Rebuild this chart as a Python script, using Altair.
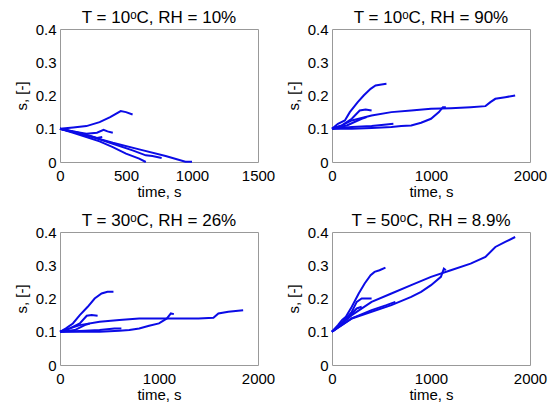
import altair as alt
import pandas as pd

FONT = "Liberation Sans"
LINE_COLOR = "#0b0be6"

titles = ["T = 10ᵒC, RH = 10%", "T = 10ᵒC, RH = 90%",
          "T = 30ᵒC, RH = 26%", "T = 50ᵒC, RH = 8.9%"]
x_max = [1500, 2000, 2000, 2000]
x_ticks = [[0, 500, 1000, 1500], [0, 1000, 2000], [0, 1000, 2000], [0, 1000, 2000]]
y_ticks = [0, 0.1, 0.2, 0.3, 0.4]

# Panel 1: T = 10C, RH = 10%
p1_t = [
    [0, 100, 200, 300, 380, 460, 500, 550],
    [0, 100, 200, 280, 330, 360, 400],
    [0, 200, 400, 600, 800, 950, 1000],
    [0, 100, 200, 300, 400, 500, 600, 650],
    [0, 100, 250, 400, 550, 650, 700, 770],
    [0, 120, 230, 280, 320],
]
p1_s = [
    [0.1, 0.104, 0.108, 0.12, 0.135, 0.153, 0.15, 0.143],
    [0.1, 0.092, 0.085, 0.088, 0.097, 0.092, 0.088],
    [0.1, 0.08, 0.058, 0.038, 0.018, 0.001, 0.001],
    [0.1, 0.088, 0.075, 0.062, 0.045, 0.025, 0.01, 0.0],
    [0.1, 0.09, 0.075, 0.055, 0.035, 0.02, 0.018, 0.012],
    [0.1, 0.09, 0.078, 0.072, 0.075],
]

# Panel 2: T = 10C, RH = 90%
p2_t = [
    [0, 60, 130, 180, 260, 320, 390, 440, 500, 550],
    [0, 100, 200, 280, 340, 400],
    [0, 100, 200, 400, 600, 800, 1000, 1200, 1400, 1550, 1600, 1650, 1750, 1850],
    [0, 200, 400, 600, 700, 800, 900, 1000, 1080, 1120, 1150],
    [0, 200, 400, 550, 620],
    [0, 150, 300, 350],
]
p2_s = [
    [0.1, 0.115, 0.125, 0.15, 0.18, 0.2, 0.22, 0.23, 0.233, 0.235],
    [0.1, 0.11, 0.13, 0.155, 0.158, 0.155],
    [0.1, 0.11, 0.125, 0.14, 0.15, 0.155, 0.16, 0.162, 0.165, 0.168, 0.18, 0.19, 0.195, 0.2],
    [0.1, 0.1, 0.102, 0.105, 0.108, 0.11, 0.118, 0.13, 0.15, 0.165, 0.165],
    [0.1, 0.105, 0.108, 0.113, 0.115],
    [0.1, 0.11, 0.13, 0.135],
]

# Panel 3: T = 30C, RH = 26%
p3_t = [
    [0, 60, 130, 200, 280, 350, 420, 480, 540],
    [0, 100, 200, 270, 320, 380],
    [0, 100, 200, 400, 600, 800, 1000, 1200, 1400, 1550, 1600, 1700, 1850],
    [0, 200, 400, 600, 700, 800, 900, 1000, 1080, 1120, 1150],
    [0, 200, 400, 550, 620],
    [0, 150, 250, 300],
]
p3_s = [
    [0.1, 0.11, 0.125, 0.15, 0.175, 0.2, 0.215, 0.22, 0.22],
    [0.1, 0.11, 0.125, 0.148, 0.15, 0.148],
    [0.1, 0.11, 0.12, 0.13, 0.135, 0.14, 0.14, 0.14, 0.14, 0.142, 0.155, 0.16, 0.165],
    [0.1, 0.1, 0.1, 0.103, 0.105, 0.11, 0.118, 0.125, 0.14, 0.155, 0.153],
    [0.1, 0.102, 0.105, 0.11, 0.11],
    [0.1, 0.105, 0.12, 0.125],
]

# Panel 4: T = 50C, RH = 8.9%
p4_t = [
    [0, 60, 100, 140, 200, 270, 330, 390, 430, 480, 540],
    [0, 100, 200, 250, 300, 400],
    [0, 200, 400, 600, 800, 1000, 1200, 1400, 1550, 1650, 1750, 1850],
    [0, 200, 400, 600, 800, 900, 1000, 1100, 1130, 1150],
    [0, 200, 400, 550, 640],
    [0, 150, 250, 300],
]
p4_s = [
    [0.1, 0.12, 0.135, 0.145, 0.175, 0.215, 0.245, 0.27, 0.28, 0.285, 0.293],
    [0.1, 0.125, 0.16, 0.19, 0.2, 0.2],
    [0.1, 0.15, 0.19, 0.215, 0.24, 0.265, 0.285, 0.305, 0.325, 0.355, 0.37, 0.385],
    [0.1, 0.14, 0.16, 0.18, 0.205, 0.22, 0.24, 0.265, 0.29, 0.285],
    [0.1, 0.14, 0.165, 0.18, 0.19],
    [0.1, 0.14, 0.17, 0.175],
]

panels_t = [p1_t, p2_t, p3_t, p4_t]
panels_s = [p1_s, p2_s, p3_s, p4_s]


def make_panel(i):
    rows = []
    for c, (ts, ss) in enumerate(zip(panels_t[i], panels_s[i])):
        for k, (t, s) in enumerate(zip(ts, ss)):
            rows.append({"curve": c, "k": k, "t": t, "s": s})
    df = pd.DataFrame(rows)
    return (
        alt.Chart(df)
        .mark_line(color=LINE_COLOR, strokeWidth=2)
        .encode(
            x=alt.X("t:Q", scale=alt.Scale(domain=[0, x_max[i]], nice=False),
                    axis=alt.Axis(title="time, s", values=x_ticks[i], format="d")),
            y=alt.Y("s:Q", scale=alt.Scale(domain=[0, 0.4], nice=False),
                    axis=alt.Axis(title="s, [-]", values=y_ticks, format=".1~f")),
            detail="curve:N",
            order="k:Q",
        )
        .properties(width=198, height=133,
                    title=alt.TitleParams(titles[i], fontSize=17, fontWeight="normal",
                                          font=FONT, color="black", offset=-5))
    )


charts = [make_panel(i) for i in range(4)]
chart = (
    alt.vconcat(
        alt.hconcat(charts[0], charts[1], spacing=9),
        alt.hconcat(charts[2], charts[3], spacing=9),
        spacing=11,
    )
    .properties(padding={"left": 5, "top": 0, "right": 0, "bottom": 0})
    .configure_view(stroke="#999999", strokeWidth=1)
    .configure_axis(
        domain=False, ticks=False, grid=False,
        labelFont=FONT, labelFontSize=15, labelColor="black", labelPadding=6,
        titleFont=FONT, titleFontSize=15, titleFontWeight="normal", titleColor="black",
        titlePadding=1, labelFlush=False,
    )
    .configure_axisY(titlePadding=6, labelPadding=4)
)

chart.save("out.html", embed_options={"renderer": "svg", "actions": False})
